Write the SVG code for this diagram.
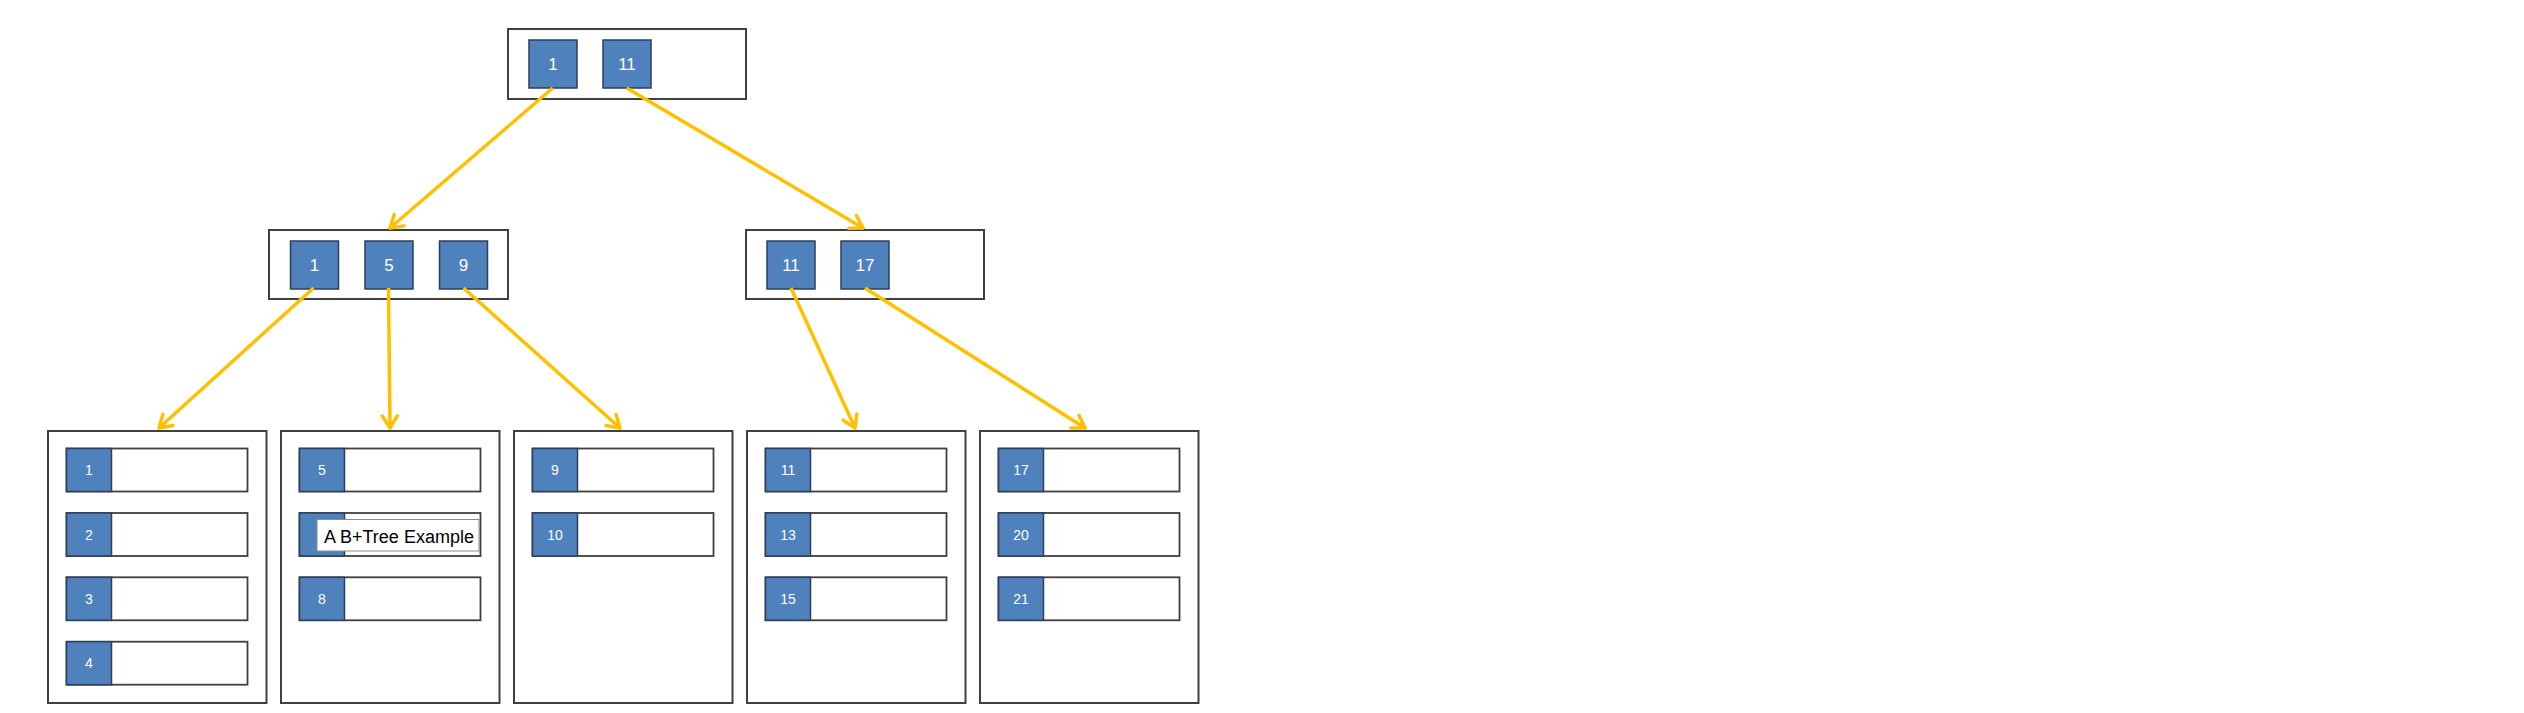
<svg xmlns="http://www.w3.org/2000/svg" width="2524" height="713" viewBox="0 0 2524 713">
<style>
.box{fill:#ffffff;stroke:#404040;stroke-width:2}
.key{fill:#4f81bd;stroke:#2c3f5c;stroke-width:1.5}
.row{fill:#ffffff;stroke:#404040;stroke-width:1.8}
.kt{font-family:"Liberation Sans",Arial,sans-serif;font-size:17px;fill:#ffffff;text-anchor:middle;dominant-baseline:central}
.lt{font-family:"Liberation Sans",Arial,sans-serif;font-size:14px;fill:#ffffff;text-anchor:middle;dominant-baseline:central}
.edge{stroke:#ffc000;stroke-width:3.5;fill:none;marker-end:url(#arr)}
.cap{font-family:"Liberation Sans",Arial,sans-serif;font-size:18px;fill:#000000}
</style>
<defs>
<marker id="arr" markerUnits="userSpaceOnUse" viewBox="-16 -10 18 20" refX="0" refY="0" markerWidth="18" markerHeight="20" orient="auto">
<path d="M-12,-7.5 L0,0 L-12,7.5" fill="none" stroke="#ffc000" stroke-width="3.5" stroke-linecap="round"/>
</marker>
<g id="rowtpl">
<rect class="row" x="0" y="0" width="181" height="43"/>
<rect class="key" x="0" y="0" width="45" height="43"/>
</g>
</defs>
<rect width="2524" height="713" fill="#ffffff"/>

<g id="root">
<rect class="box" x="508" y="29" width="238" height="70"/>
<rect class="key" x="529" y="40" width="48" height="48"/>
<text class="kt" x="553" y="64">1</text>
<rect class="key" x="603" y="40" width="48" height="48"/>
<text class="kt" x="627" y="64">11</text>
</g>

<g id="inner-left">
<rect class="box" x="269" y="230" width="239" height="69"/>
<rect class="key" x="290.5" y="241" width="48" height="48"/>
<text class="kt" x="314.5" y="265">1</text>
<rect class="key" x="365" y="241" width="48" height="48"/>
<text class="kt" x="389" y="265">5</text>
<rect class="key" x="439.5" y="241" width="48" height="48"/>
<text class="kt" x="463.5" y="265">9</text>
</g>

<g id="inner-right">
<rect class="box" x="746" y="230" width="238" height="69"/>
<rect class="key" x="767" y="241" width="48" height="48"/>
<text class="kt" x="791" y="265">11</text>
<rect class="key" x="841" y="241" width="48" height="48"/>
<text class="kt" x="865" y="265">17</text>
</g>

<g id="leaf1">
<rect class="box" x="48" y="431" width="218.5" height="272"/>
<use href="#rowtpl" x="66.5" y="448.5"/>
<text class="lt" x="89" y="470">1</text>
<use href="#rowtpl" x="66.5" y="513"/>
<text class="lt" x="89" y="534.5">2</text>
<use href="#rowtpl" x="66.5" y="577.3"/>
<text class="lt" x="89" y="598.8">3</text>
<use href="#rowtpl" x="66.5" y="641.7"/>
<text class="lt" x="89" y="663.2">4</text>
</g>

<g id="leaf2">
<rect class="box" x="281" y="431" width="218.5" height="272"/>
<use href="#rowtpl" x="299.5" y="448.5"/>
<text class="lt" x="322" y="470">5</text>
<use href="#rowtpl" x="299.5" y="513"/>
<use href="#rowtpl" x="299.5" y="577.3"/>
<text class="lt" x="322" y="598.8">8</text>
</g>

<g id="leaf3">
<rect class="box" x="514" y="431" width="218.5" height="272"/>
<use href="#rowtpl" x="532.5" y="448.5"/>
<text class="lt" x="555" y="470">9</text>
<use href="#rowtpl" x="532.5" y="513"/>
<text class="lt" x="555" y="534.5">10</text>
</g>

<g id="leaf4">
<rect class="box" x="747" y="431" width="218.5" height="272"/>
<use href="#rowtpl" x="765.5" y="448.5"/>
<text class="lt" x="788" y="470">11</text>
<use href="#rowtpl" x="765.5" y="513"/>
<text class="lt" x="788" y="534.5">13</text>
<use href="#rowtpl" x="765.5" y="577.3"/>
<text class="lt" x="788" y="598.8">15</text>
</g>

<g id="leaf5">
<rect class="box" x="980" y="431" width="218.5" height="272"/>
<use href="#rowtpl" x="998.5" y="448.5"/>
<text class="lt" x="1021" y="470">17</text>
<use href="#rowtpl" x="998.5" y="513"/>
<text class="lt" x="1021" y="534.5">20</text>
<use href="#rowtpl" x="998.5" y="577.3"/>
<text class="lt" x="1021" y="598.8">21</text>
</g>

<g id="connectors">
<line class="edge" x1="552.7" y1="88" x2="390" y2="228"/>
<line class="edge" x1="626.7" y1="88" x2="863" y2="228"/>
<line class="edge" x1="313.5" y1="288" x2="159" y2="428"/>
<line class="edge" x1="388.5" y1="288" x2="390" y2="428"/>
<line class="edge" x1="463.5" y1="288" x2="620" y2="428"/>
<line class="edge" x1="791" y1="288" x2="855" y2="428"/>
<line class="edge" x1="865" y1="288" x2="1085" y2="428"/>
</g>

<g id="caption">
<rect x="317" y="519.5" width="162" height="31.5" fill="#ffffff" stroke="#8c8c8c" stroke-width="1"/>
<text class="cap" x="324" y="543">A B+Tree Example</text>
</g>
</svg>
